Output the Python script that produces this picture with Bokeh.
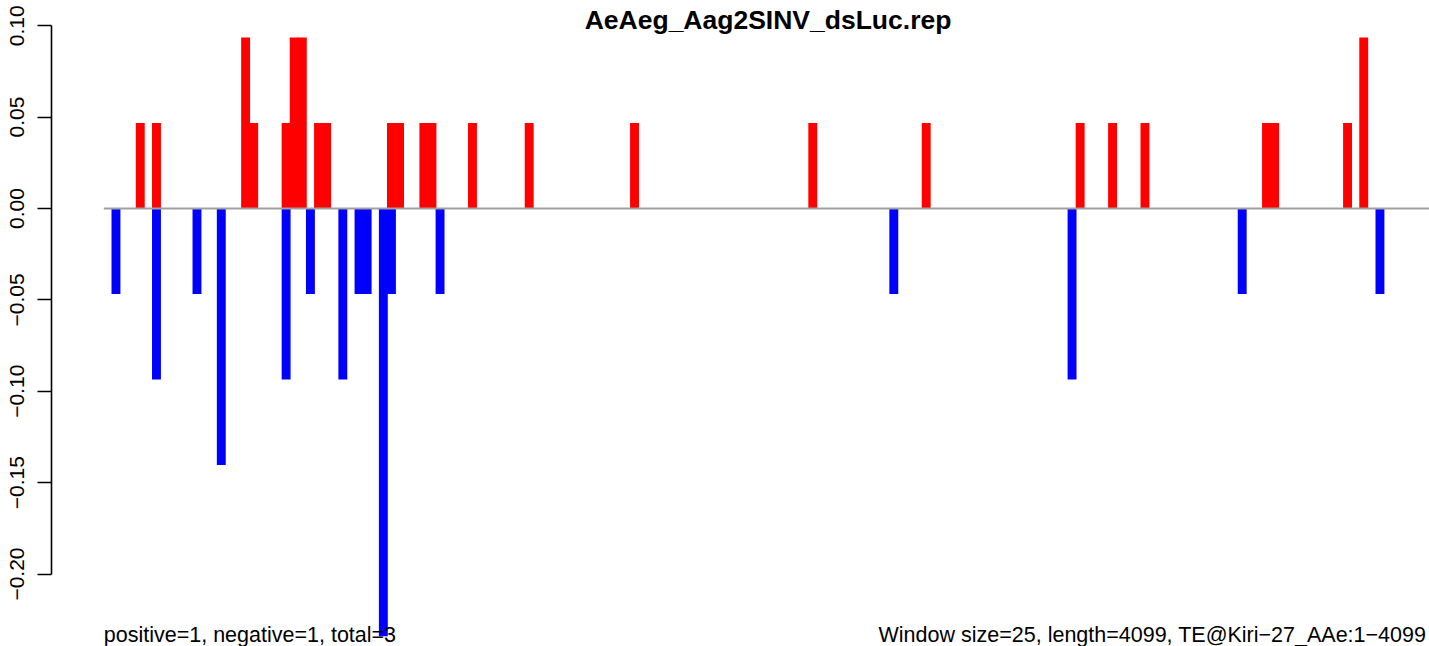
from bokeh.plotting import figure
from bokeh.models import Range1d, FixedTicker, Label
from bokeh.embed import file_html
from bokeh.resources import INLINE

# ---- data ----
title_text = "AeAeg_Aag2SINV_dsLuc.rep"
window_size = 25
seq_length = 4099
left_note = "positive=1, negative=1, total=3"
right_note = "Window size=25, length=4099, TE@Kiri\u221227_AAe:1\u22124099"

# window centres (bp) and values of the positive (red) windows
pos_x = [112.5, 162.5, 437.5, 462.5, 562.5, 587.5, 612.5, 662.5, 687.5,
         887.5, 912.5, 987.5, 1012.5, 1137.5, 1312.5, 1637.5, 2187.5,
         2537.5, 3012.5, 3112.5, 3212.5, 3587.5, 3612.5, 3837.5, 3887.5]
pos_y = [0.0468, 0.0468, 0.0936, 0.0468, 0.0468, 0.0936, 0.0936, 0.0468, 0.0468,
         0.0468, 0.0468, 0.0468, 0.0468, 0.0468, 0.0468, 0.0468, 0.0468,
         0.0468, 0.0468, 0.0468, 0.0468, 0.0468, 0.0468, 0.0468, 0.0936]

# window centres (bp) and values of the negative (blue) windows
neg_x = [37.5, 162.5, 287.5, 362.5, 562.5, 637.5, 737.5, 787.5, 812.5,
         862.5, 887.5, 1037.5, 2437.5, 2987.5, 3512.5, 3937.5]
neg_y = [-0.0468, -0.0936, -0.0468, -0.1404, -0.0936, -0.0468, -0.0936, -0.0468, -0.0468,
         -0.2340, -0.0468, -0.0468, -0.0468, -0.0936, -0.0468, -0.0468]

y_ticks = [-0.20, -0.15, -0.10, -0.05, 0.00, 0.05, 0.10]
y_tick_labels = ["\u22120.20", "\u22120.15", "\u22120.10", "\u22120.05", "0.00", "0.05", "0.10"]

# ---- figure ----
FONT = "Liberation Sans"
p = figure(width=1429, height=646, output_backend="svg", toolbar_location=None,
           title=None, x_axis_type=None,
           x_range=Range1d(-161.4, 4090.4), y_range=Range1d(-0.23965, 0.11380),
           min_border_left=51, min_border_right=0, min_border_top=0, min_border_bottom=0)
p.outline_line_color = None
p.grid.visible = False
p.background_fill_color = "white"
p.border_fill_color = "white"

bar_w = window_size * 1.1
p.vbar(x=neg_x, top=neg_y, bottom=0, width=bar_w, fill_color="#0000FF", line_color=None)
p.vbar(x=pos_x, top=pos_y, bottom=0, width=bar_w, fill_color="#FF0000", line_color=None)
p.line(x=[0, seq_length], y=[0, 0], line_color="#A0A0A0", line_width=1.8)

ax = p.yaxis[0]
ax.ticker = FixedTicker(ticks=y_ticks, minor_ticks=[])
ax.major_label_overrides = {t: s for t, s in zip(y_ticks, y_tick_labels)}
ax.bounds = (min(y_ticks), max(y_ticks))
ax.axis_line_color = "black"
ax.axis_line_width = 1.6
ax.major_tick_line_color = "black"
ax.major_tick_line_width = 1.6
ax.major_tick_out = 14
ax.major_tick_in = 0
ax.minor_tick_out = 0
ax.minor_tick_in = 0
ax.major_label_orientation = "vertical"
ax.major_label_standoff = 13
ax.major_label_text_font = FONT
ax.major_label_text_font_size = "21px"
ax.major_label_text_color = "black"

p.add_layout(Label(x=seq_length / 2, y=0.10286, text=title_text, text_align="center",
                   text_baseline="alphabetic", text_font=FONT, text_font_size="26.5px",
                   text_font_style="bold", text_color="black"))
p.add_layout(Label(x=0, y=-0.23363, text=left_note, text_align="left",
                   text_baseline="alphabetic", text_font=FONT, text_font_size="21.5px",
                   text_color="black"))
p.add_layout(Label(x=seq_length, y=-0.23363, text=right_note, text_align="right",
                   text_baseline="alphabetic", text_font=FONT, text_font_size="21.5px",
                   text_color="black", x_offset=-6))

open("out.html", "w").write(file_html(p, INLINE))
